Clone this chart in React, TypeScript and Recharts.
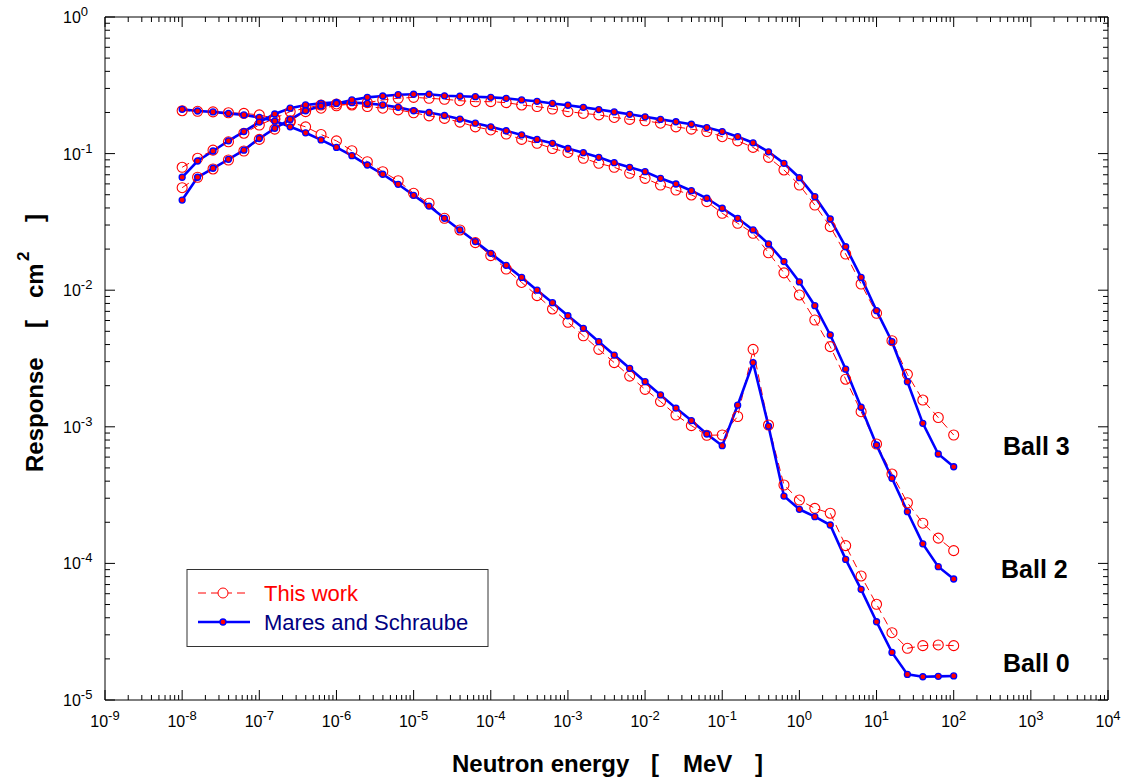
import React from 'react';
import { LineChart, Line, XAxis, YAxis } from 'recharts';

const FONT = '"Liberation Sans", Arial, Helvetica, sans-serif';
const RED = '#ff0000';
const BLUE = '#0000ff';

// neutron energies in MeV, 5 points per decade
const ENERGY = [
  1e-8, 1.585e-8, 2.512e-8, 3.981e-8, 6.31e-8,
  1e-7, 1.585e-7, 2.512e-7, 3.981e-7, 6.31e-7,
  1e-6, 1.585e-6, 2.512e-6, 3.981e-6, 6.31e-6,
  1e-5, 1.585e-5, 2.512e-5, 3.981e-5, 6.31e-5,
  1e-4, 1.585e-4, 2.512e-4, 3.981e-4, 6.31e-4,
  1e-3, 1.585e-3, 2.512e-3, 3.981e-3, 6.31e-3,
  1e-2, 1.585e-2, 2.512e-2, 3.981e-2, 6.31e-2,
  1e-1, 0.1585, 0.2512, 0.3981, 0.631,
  1, 1.585, 2.512, 3.981, 6.31,
  10, 15.85, 25.12, 39.81, 63.1,
  100,
];

// Ball 0
const BALL0_THIS = [
  0.206, 0.204, 0.202, 0.199, 0.197, 0.192, 0.181, 0.170, 0.157, 0.138,
  0.124, 0.105, 0.0872, 0.0737, 0.0633, 0.0512, 0.0433, 0.0336, 0.0276, 0.0223,
  0.0179, 0.0143, 0.0114, 0.00912, 0.00729, 0.00582, 0.00464, 0.00369, 0.00295, 0.00235,
  0.00188, 0.00153, 0.00122, 0.00102, 0.000867, 0.000871, 0.00119, 0.00369, 0.00103, 0.000375,
  0.000291, 0.000253, 0.000233, 0.000135, 8.09e-5, 5.02e-5, 3.11e-5, 2.39e-5, 2.5e-5, 2.53e-5,
  2.5e-5,
];
const BALL0_MS = [
  0.211, 0.205, 0.202, 0.197, 0.192, 0.184, 0.173, 0.157, 0.142, 0.126,
  0.111, 0.0965, 0.0825, 0.0706, 0.0596, 0.0495, 0.0413, 0.0336, 0.0276, 0.0227,
  0.0186, 0.0152, 0.0124, 0.0100, 0.0081, 0.0065, 0.00526, 0.0042, 0.00335, 0.00268,
  0.00214, 0.00171, 0.00137, 0.00111, 0.000886, 0.000727, 0.00144, 0.00295, 0.00101, 0.000311,
  0.000249, 0.00022, 0.000191, 0.000107, 6.46e-5, 3.74e-5, 2.23e-5, 1.54e-5, 1.48e-5, 1.49e-5,
  1.5e-5,
];

// Ball 2
const BALL2_THIS = [
  0.0794, 0.0924, 0.106, 0.122, 0.141, 0.162, 0.181, 0.203, 0.215, 0.227,
  0.231, 0.227, 0.221, 0.215, 0.209, 0.199, 0.189, 0.181, 0.170, 0.157,
  0.149, 0.139, 0.127, 0.119, 0.109, 0.102, 0.0924, 0.0849, 0.0794, 0.0718,
  0.0659, 0.0589, 0.0541, 0.0498, 0.0445, 0.0366, 0.0309, 0.0261, 0.0188, 0.0134,
  0.00923, 0.00605, 0.00386, 0.00223, 0.00129, 0.000748, 0.000451, 0.000278, 0.000197, 0.000153,
  0.000124,
];
const BALL2_MS = [
  0.0671, 0.0883, 0.1045, 0.124, 0.145, 0.170, 0.195, 0.215, 0.227, 0.233,
  0.237, 0.236, 0.233, 0.227, 0.218, 0.206, 0.200, 0.190, 0.179, 0.167,
  0.157, 0.147, 0.137, 0.127, 0.119, 0.109, 0.1015, 0.0939, 0.0858, 0.0794,
  0.0737, 0.0659, 0.0599, 0.0535, 0.0471, 0.0398, 0.0336, 0.0276, 0.0218, 0.0162,
  0.0115, 0.0077, 0.0047, 0.00264, 0.00139, 0.000736, 0.00042, 0.000239, 0.000139, 9.46e-5,
  7.69e-5,
];

// Ball 3
const BALL3_THIS = [
  0.0563, 0.0671, 0.0772, 0.0898, 0.1045, 0.127, 0.151, 0.174, 0.203, 0.215,
  0.224, 0.231, 0.236, 0.247, 0.254, 0.258, 0.254, 0.250, 0.244, 0.240,
  0.240, 0.236, 0.227, 0.221, 0.212, 0.203, 0.197, 0.192, 0.184, 0.178,
  0.174, 0.167, 0.157, 0.151, 0.145, 0.133, 0.124, 0.111, 0.0939, 0.0759,
  0.0589, 0.042, 0.0292, 0.0184, 0.0111, 0.00678, 0.00427, 0.00242, 0.00157, 0.00117,
  0.000871,
];
const BALL3_MS = [
  0.0457, 0.0671, 0.0781, 0.0908, 0.106, 0.129, 0.153, 0.178, 0.206, 0.223,
  0.233, 0.247, 0.258, 0.264, 0.270, 0.272, 0.272, 0.265, 0.263, 0.261,
  0.258, 0.254, 0.247, 0.2415, 0.233, 0.226, 0.218, 0.210, 0.202, 0.194,
  0.186, 0.178, 0.171, 0.164, 0.155, 0.145, 0.133, 0.120, 0.103, 0.0849,
  0.0666, 0.0484, 0.0332, 0.0208, 0.0124, 0.00708, 0.0042, 0.00214, 0.00106, 0.000632,
  0.00051,
];

const X_DECADES = [-9, -8, -7, -6, -5, -4, -3, -2, -1, 0, 1, 2, 3, 4];
const Y_DECADES = [-5, -4, -3, -2, -1, 0];
const MINOR = [2, 3, 4, 5, 6, 7, 8, 9];

function logTicks(decades: number[]) {
  const out: number[] = [];
  decades.forEach((d, i) => {
    out.push(Number(`1e${d}`));
    if (i < decades.length - 1) MINOR.forEach((m) => out.push(Number(`${m}e${d}`)));
  });
  return out;
}

const X_TICKS = logTicks(X_DECADES);
const Y_TICKS = logTicks(Y_DECADES);

const data = ENERGY.map((e, i) => ({
  e,
  b0t: BALL0_THIS[i], b0m: BALL0_MS[i],
  b2t: BALL2_THIS[i], b2m: BALL2_MS[i],
  b3t: BALL3_THIS[i], b3m: BALL3_MS[i],
}));

function parseTick(v: number) {
  const exp = Math.round(Math.log10(v));
  const major = Math.abs(v / Math.pow(10, exp) - 1) < 1e-6;
  return { exp, major };
}

const XTick = ({ x, y, payload, side }: any) => {
  const { exp, major } = parseTick(payload.value);
  const len = major ? 10 : 5;
  const dir = side === 'bottom' ? -1 : 1;
  return (
    <g>
      <line x1={x} y1={y} x2={x} y2={y + dir * len} stroke="#000" strokeWidth={1} />
      {side === 'bottom' && major && (
        <text x={x} y={y + 27} textAnchor="middle" fontFamily={FONT} fontSize={16} fill="#000">
          10<tspan dy={-7} fontSize={13}>{exp}</tspan>
        </text>
      )}
    </g>
  );
};

const YTick = ({ x, y, payload, side }: any) => {
  const { exp, major } = parseTick(payload.value);
  const len = major ? 10 : 5;
  const dir = side === 'left' ? 1 : -1;
  return (
    <g>
      <line x1={x} y1={y} x2={x + dir * len} y2={y} stroke="#000" strokeWidth={1} />
      {side === 'left' && major && (
        <text x={x - 42} y={y + 6} textAnchor="start" fontFamily={FONT} fontSize={16} fill="#000">
          10<tspan dy={-7} fontSize={13}>{exp}</tspan>
        </text>
      )}
    </g>
  );
};

const openCircle = { r: 5, stroke: RED, strokeWidth: 1.1, fill: 'none', strokeDasharray: 'none' };
const filledDot = { r: 3, stroke: BLUE, strokeWidth: 1.3, fill: RED };

export default function App() {
  const W = 1136;
  const H = 784;
  const bold = { fontFamily: FONT, fontWeight: 700, fill: '#000' } as const;
  return (
    <div style={{ position: 'absolute', left: 0, top: 0, width: W, height: H, background: '#fff' }}>
      <LineChart width={W} height={H} data={data} margin={{ top: 16, right: 27, bottom: 83, left: 104 }}>
        <XAxis
          dataKey="e" type="number" scale="log" domain={[1e-9, 1e4]} allowDataOverflow
          ticks={X_TICKS} interval={0} tickSize={0} tickMargin={0} height={1}
          axisLine={{ stroke: '#000' }} tickLine={false}
          tick={(p: any) => <XTick {...p} side="bottom" />}
        />
        <XAxis
          xAxisId="top" orientation="top" dataKey="e" type="number" scale="log" domain={[1e-9, 1e4]} allowDataOverflow
          ticks={X_TICKS} interval={0} tickSize={0} tickMargin={0} height={1}
          axisLine={{ stroke: '#000' }} tickLine={false}
          tick={(p: any) => <XTick {...p} side="top" />}
        />
        <YAxis
          type="number" scale="log" domain={[1e-5, 1]} allowDataOverflow
          ticks={Y_TICKS} interval={0} tickSize={0} tickMargin={0} width={1}
          axisLine={{ stroke: '#000' }} tickLine={false}
          tick={(p: any) => <YTick {...p} side="left" />}
        />
        <YAxis
          yAxisId="right" orientation="right" type="number" scale="log" domain={[1e-5, 1]} allowDataOverflow
          ticks={Y_TICKS} interval={0} tickSize={0} tickMargin={0} width={1}
          axisLine={{ stroke: '#000' }} tickLine={false}
          tick={(p: any) => <YTick {...p} side="right" />}
        />
        {['b0t', 'b2t', 'b3t'].map((k) => (
          <Line key={k} dataKey={k} type="linear" stroke={RED} strokeWidth={1} strokeDasharray="8 5"
            dot={openCircle} activeDot={false} isAnimationActive={false} />
        ))}
        {['b0m', 'b2m', 'b3m'].map((k) => (
          <Line key={k} dataKey={k} type="linear" stroke={BLUE} strokeWidth={2.6}
            dot={filledDot} activeDot={false} isAnimationActive={false} />
        ))}
      </LineChart>

      <svg width={W} height={H} style={{ position: 'absolute', left: 0, top: 0, pointerEvents: 'none' }}>
        {/* axis titles */}
        <g {...bold} fontSize={24}>
          <text x={452} y={772}>Neutron energy</text>
          <text x={651} y={772}>[</text>
          <text x={683} y={772}>MeV</text>
          <text x={755} y={772}>]</text>
          <text transform="translate(43,472) rotate(-90)">Response</text>
          <text transform="translate(43,328) rotate(-90)">[</text>
          <text transform="translate(43,298) rotate(-90)">cm</text>
          <text transform="translate(29,261) rotate(-90)" fontSize={17}>2</text>
          <text transform="translate(43,222) rotate(-90)">]</text>
        </g>

        {/* curve labels */}
        <g {...bold} fontSize={25}>
          <text x={1003} y={455}>Ball 3</text>
          <text x={1001} y={578}>Ball 2</text>
          <text x={1003} y={672}>Ball 0</text>
        </g>

        {/* legend */}
        <rect x={187} y={569.5} width={301} height={77} fill="#fff" stroke="#333" strokeWidth={1} />
        <line x1={198} y1={593} x2={250} y2={593} stroke={RED} strokeWidth={1} strokeDasharray="8 5" />
        <circle cx={223} cy={593} r={5} stroke={RED} strokeWidth={1} fill="#fff" />
        <text x={264} y={601} fontFamily={FONT} fontSize={22} fill={RED}>This work</text>
        <line x1={198} y1={622} x2={250} y2={622} stroke={BLUE} strokeWidth={2.6} />
        <circle cx={223} cy={622} r={3} stroke={BLUE} strokeWidth={1.3} fill={RED} />
        <text x={264} y={630} fontFamily={FONT} fontSize={22} fill="#000080">Mares and Schraube</text>
      </svg>
    </div>
  );
}
